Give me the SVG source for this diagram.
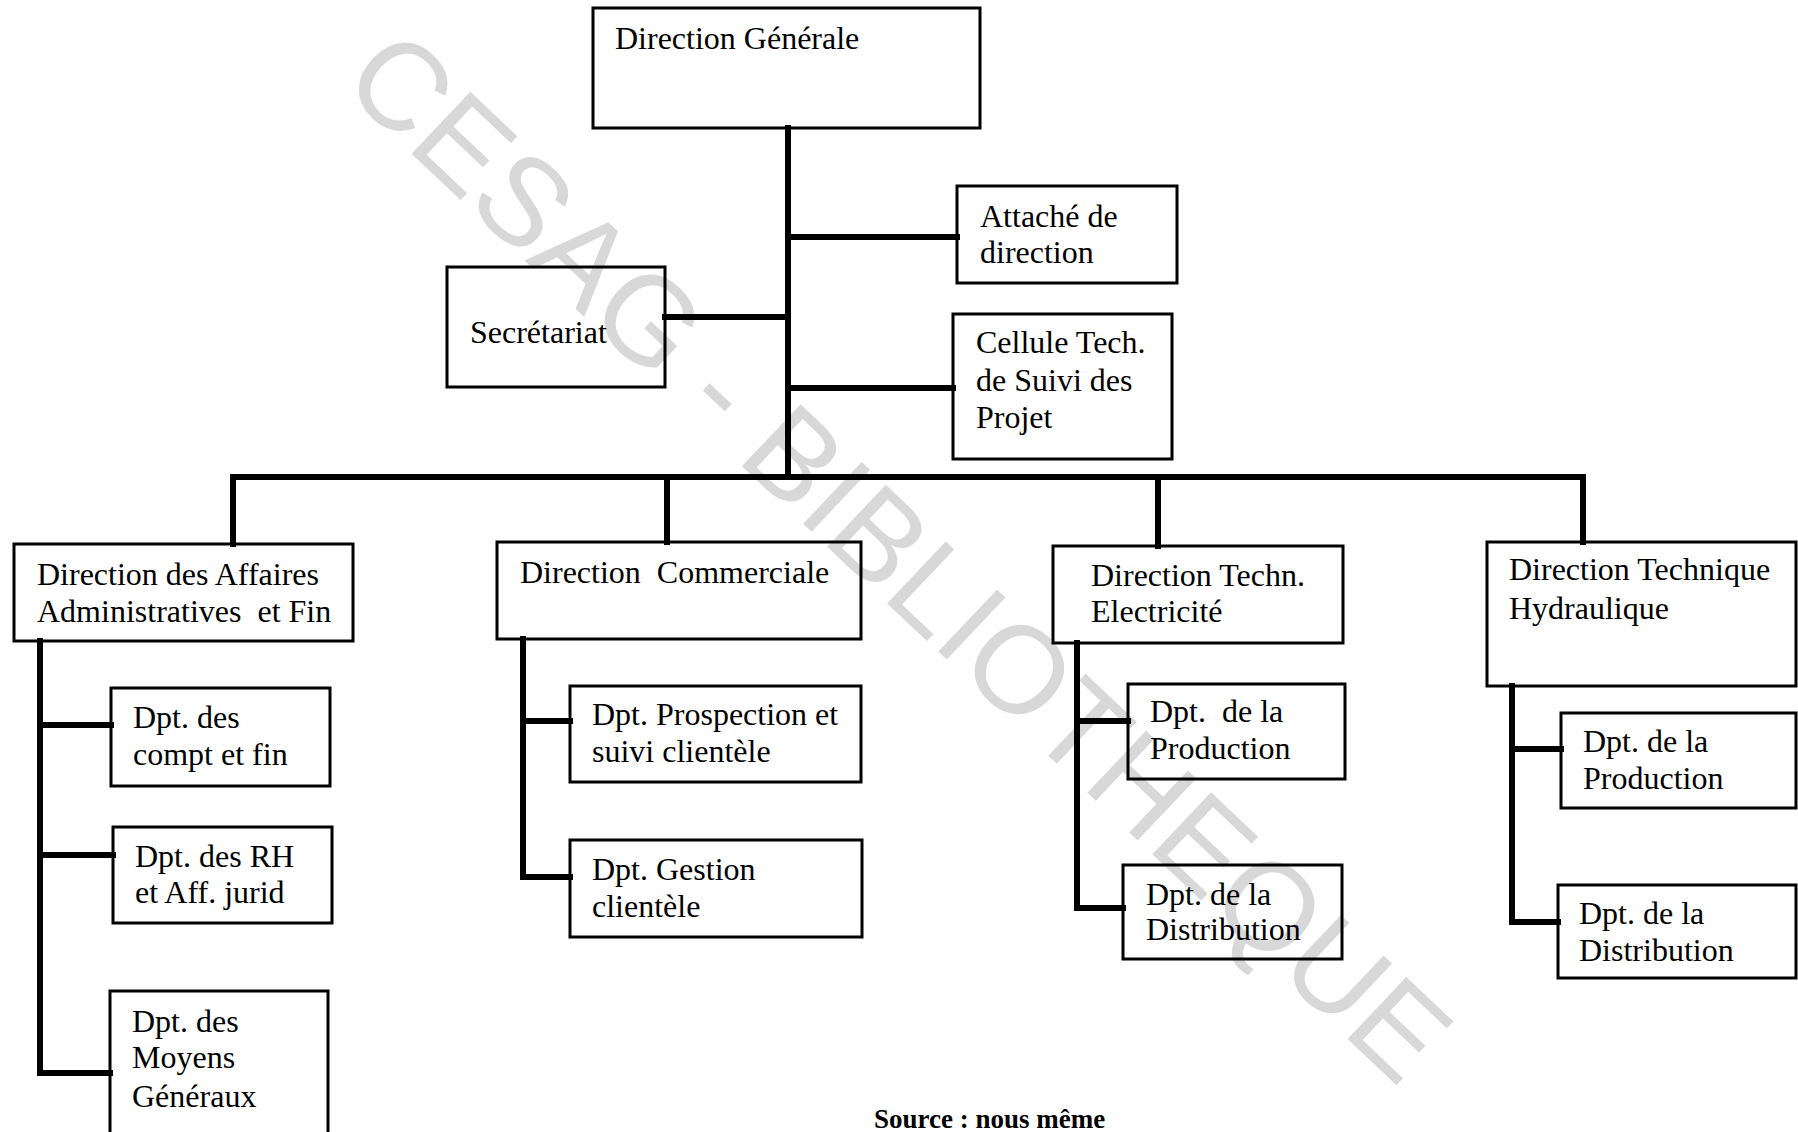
<svg xmlns="http://www.w3.org/2000/svg" width="1798" height="1132" viewBox="0 0 1798 1132">
<style>
.box{fill:none;stroke:#000;stroke-width:3}
.lbl{font-family:"Liberation Serif","Times New Roman",serif;font-size:32px;fill:#000;white-space:pre}
.con{stroke:#000;stroke-width:6;stroke-linecap:square;fill:none}
.wm{font-family:"Liberation Sans",Arial,sans-serif;font-size:124px;fill:#d8d8d8}
.src{font-family:"Liberation Serif","Times New Roman",serif;font-size:27px;font-weight:bold;fill:#000}
</style>
<rect width="1798" height="1132" fill="#fff"/>
<g id="watermark" transform="translate(900,555) rotate(43.4)">
<text class="wm" x="0" y="44" text-anchor="middle">CESAG - BIBLIOTHEQUE</text>
</g>
<g id="connectors">
<line class="con" x1="788" y1="128" x2="788" y2="477"/>
<line class="con" x1="665" y1="317" x2="788" y2="317"/>
<line class="con" x1="788" y1="237" x2="957" y2="237"/>
<line class="con" x1="788" y1="388" x2="953" y2="388"/>
<line class="con" x1="233" y1="477" x2="1583" y2="477"/>
<line class="con" x1="233" y1="477" x2="233" y2="544"/>
<line class="con" x1="667" y1="477" x2="667" y2="542"/>
<line class="con" x1="1158" y1="477" x2="1158" y2="546"/>
<line class="con" x1="1583" y1="477" x2="1583" y2="542"/>
<line class="con" x1="40" y1="641" x2="40" y2="1073"/>
<line class="con" x1="40" y1="725" x2="111" y2="725"/>
<line class="con" x1="40" y1="855" x2="113" y2="855"/>
<line class="con" x1="40" y1="1073" x2="110" y2="1073"/>
<line class="con" x1="523" y1="639" x2="523" y2="877"/>
<line class="con" x1="523" y1="721" x2="570" y2="721"/>
<line class="con" x1="523" y1="877" x2="570" y2="877"/>
<line class="con" x1="1077" y1="643" x2="1077" y2="908"/>
<line class="con" x1="1077" y1="721" x2="1128" y2="721"/>
<line class="con" x1="1077" y1="908" x2="1123" y2="908"/>
<line class="con" x1="1512" y1="686" x2="1512" y2="922"/>
<line class="con" x1="1512" y1="749" x2="1561" y2="749"/>
<line class="con" x1="1512" y1="922" x2="1558" y2="922"/>
</g>
<g id="n-dg"><rect class="box" x="593" y="8" width="387" height="120"/><text class="lbl" x="615" y="49">Direction Générale</text></g>
<g id="n-secretariat"><rect class="box" x="447" y="267" width="218" height="120"/><text class="lbl" x="470" y="343">Secrétariat</text></g>
<g id="n-attache"><rect class="box" x="957" y="186" width="220" height="97"/><text class="lbl" x="980" y="227">Attaché de</text><text class="lbl" x="980" y="263">direction</text></g>
<g id="n-cellule"><rect class="box" x="953" y="314" width="219" height="145"/><text class="lbl" x="976" y="353">Cellule Tech.</text><text class="lbl" x="976" y="391">de Suivi des</text><text class="lbl" x="976" y="428">Projet</text></g>
<g id="n-daaf"><rect class="box" x="14" y="544" width="339" height="97"/><text class="lbl" x="37" y="585">Direction des Affaires</text><text class="lbl" x="37" y="622">Administratives  et Fin</text></g>
<g id="n-dc"><rect class="box" x="497" y="542" width="364" height="97"/><text class="lbl" x="520" y="583">Direction  Commerciale</text></g>
<g id="n-dte"><rect class="box" x="1053" y="546" width="290" height="97"/><text class="lbl" x="1091" y="586">Direction Techn.</text><text class="lbl" x="1091" y="622">Electricité</text></g>
<g id="n-dth"><rect class="box" x="1487" y="542" width="309" height="144"/><text class="lbl" x="1509" y="580">Direction Technique</text><text class="lbl" x="1509" y="619">Hydraulique</text></g>
<g id="n-compt"><rect class="box" x="111" y="688" width="219" height="98"/><text class="lbl" x="133" y="728">Dpt. des</text><text class="lbl" x="133" y="765">compt et fin</text></g>
<g id="n-rh"><rect class="box" x="113" y="827" width="219" height="96"/><text class="lbl" x="135" y="867">Dpt. des RH</text><text class="lbl" x="135" y="903">et Aff. jurid</text></g>
<g id="n-moyens"><rect class="box" x="110" y="991" width="218" height="160"/><text class="lbl" x="132" y="1032">Dpt. des</text><text class="lbl" x="132" y="1068">Moyens</text><text class="lbl" x="132" y="1107">Généraux</text></g>
<g id="n-prospection"><rect class="box" x="570" y="686" width="291" height="96"/><text class="lbl" x="592" y="725">Dpt. Prospection et</text><text class="lbl" x="592" y="762">suivi clientèle</text></g>
<g id="n-gestion"><rect class="box" x="570" y="840" width="292" height="97"/><text class="lbl" x="592" y="880">Dpt. Gestion</text><text class="lbl" x="592" y="917">clientèle</text></g>
<g id="n-dte-prod"><rect class="box" x="1128" y="684" width="217" height="95"/><text class="lbl" x="1150" y="722">Dpt.  de la</text><text class="lbl" x="1150" y="759">Production</text></g>
<g id="n-dte-distr"><rect class="box" x="1123" y="865" width="219" height="94"/><text class="lbl" x="1146" y="905">Dpt. de la</text><text class="lbl" x="1146" y="940">Distribution</text></g>
<g id="n-dth-prod"><rect class="box" x="1561" y="713" width="235" height="95"/><text class="lbl" x="1583" y="752">Dpt. de la</text><text class="lbl" x="1583" y="789">Production</text></g>
<g id="n-dth-distr"><rect class="box" x="1558" y="885" width="238" height="93"/><text class="lbl" x="1579" y="924">Dpt. de la</text><text class="lbl" x="1579" y="961">Distribution</text></g>
<text class="src" x="874" y="1128">Source : nous même</text>
</svg>
